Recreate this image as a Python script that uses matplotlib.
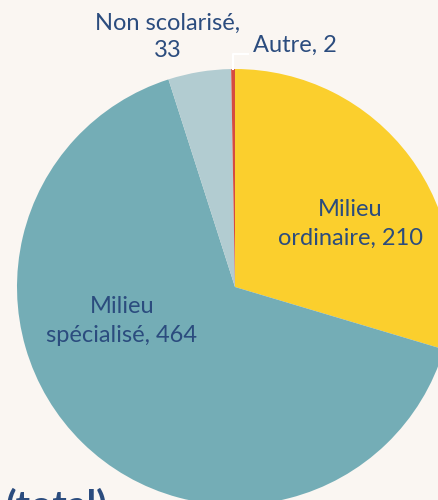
import matplotlib.pyplot as plt

labels = ['Milieu ordinaire', 'Milieu spécialisé', 'Non scolarisé', 'Autre']
values = [210, 464, 33, 2]
colors = ['#FBCF2D', '#74ADB6', '#B2CCD1', '#D64B3F']

bg = '#FAF6F2'
txt = '#2B4C7E'
plt.rcParams['font.family'] = ['Lato', 'DejaVu Sans']

fig = plt.figure(figsize=(4.38, 5.0), dpi=100, facecolor=bg)
ax = fig.add_axes([0, 0, 1, 1])
ax.set_facecolor(bg)

# pie in pixel-like coordinates (y up)
ax.pie(values, colors=colors, startangle=90, counterclock=False,
       center=(235, 213), radius=218, frame=True,
       wedgeprops=dict(linewidth=0))
ax.set_xlim(0, 438)
ax.set_ylim(0, 500)
ax.set_aspect('equal')
ax.axis('off')

fs = 17
ax.text(350, 500 - 224, 'Milieu\nordinaire, %d' % values[0], ha='center', va='center',
        fontsize=fs, color=txt, linespacing=1.45)
ax.text(122, 500 - 321, 'Milieu\nspécialisé, %d' % values[1], ha='center', va='center',
        fontsize=fs, color=txt, linespacing=1.45)
ax.text(168, 500 - 37, 'Non scolarisé,\n%d' % values[2], ha='center', va='center',
        fontsize=fs, color=txt, linespacing=1.4)
ax.text(253, 500 - 45, 'Autre, %d' % values[3], ha='left', va='center',
        fontsize=fs, color=txt)
# leader line for Autre
ax.plot([233, 233, 248], [500 - 69, 500 - 54, 500 - 54], color='white', lw=1.5)

fig.text(6 / 438, -18 / 500, '(total)', ha='left', va='baseline',
         fontsize=28, fontweight='bold', color=txt)

fig.savefig('out.png', dpi=100, facecolor=bg)
